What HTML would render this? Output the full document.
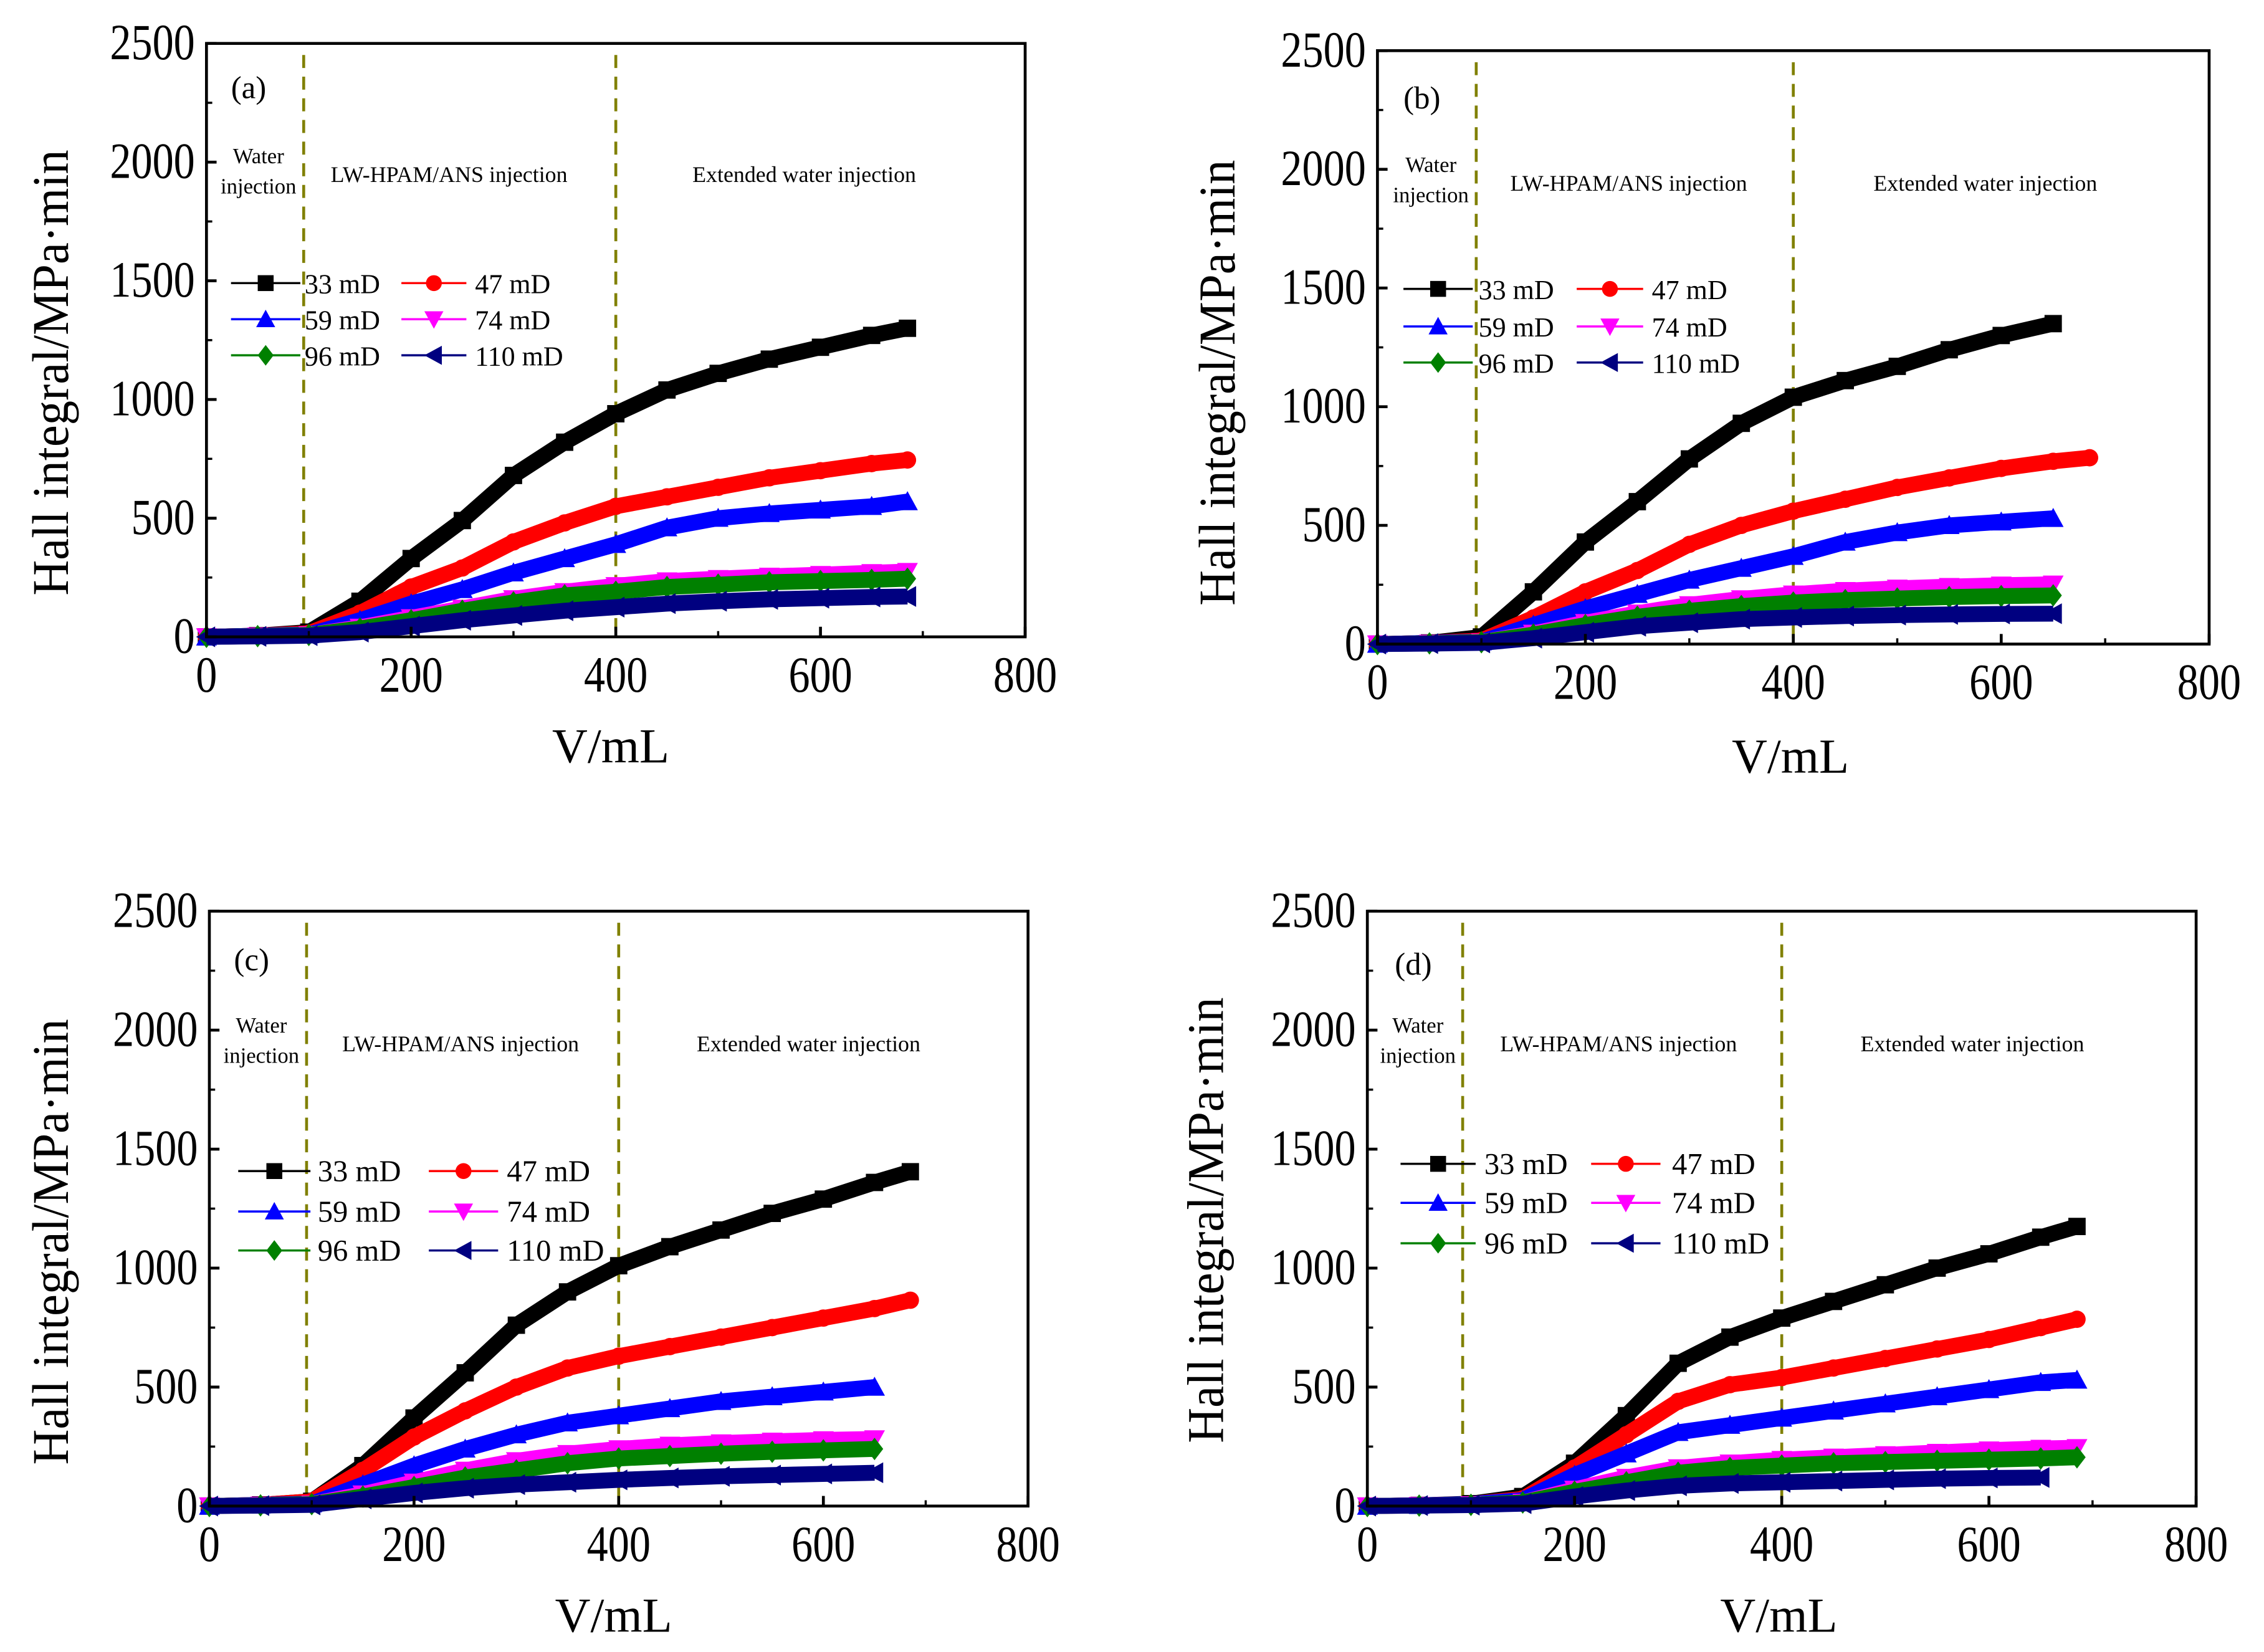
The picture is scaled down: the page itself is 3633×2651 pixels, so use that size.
<!DOCTYPE html>
<html><head><meta charset="utf-8"><style>
html,body{margin:0;padding:0;background:#fff;}
svg{display:block;font-family:"Liberation Serif",serif;}
</style></head><body>
<svg id="fig" xmlns="http://www.w3.org/2000/svg" width="3633" height="2651" viewBox="0 0 1568 1144"></svg>
<script>
const xTicks=[0,200,400,600,800];
const yTicks=[0,500,1000,1500,2000,2500];
const seriesNames=["33 mD","47 mD","59 mD","74 mD","96 mD","110 mD"];
const xVals=[0,50,100,150,200,250,300,350,400,450,500,550,600,650,685];
const aS33=[0,5,20,150,330,490,680,820,940,1040,1110,1170,1220,1270,1300];
const aS47=[0,5,15,100,210,290,400,480,550,590,630,670,700,730,745];
const aS59=[0,5,10,70,140,200,270,330,390,460,500,520,535,550,570];
const aS74=[0,3,8,40,80,120,160,190,215,235,245,255,262,270,275];
const aS96=[0,3,8,35,70,110,145,175,190,210,220,230,235,240,245];
const aS110=[0,2,5,20,45,70,90,110,125,140,150,158,163,168,170];
const bS33=[0,5,30,220,430,600,780,930,1040,1110,1170,1240,1300,1350,null];
const bS47=[0,5,15,110,220,310,420,500,560,610,660,700,740,770,785];
const bS59=[0,5,10,80,150,210,270,320,370,430,470,500,515,530,null];
const bS74=[0,3,8,45,90,130,165,190,210,225,235,242,248,252,null];
const bS96=[0,3,8,40,80,115,140,160,175,185,192,198,202,205,null];
const bS110=[0,2,5,25,50,75,90,105,112,118,122,125,127,128,null];
const cS33=[0,5,20,170,370,560,760,900,1010,1090,1160,1230,1290,1360,1405];
const cS47=[0,5,20,150,290,400,500,580,630,670,710,750,790,830,865];
const cS59=[0,5,10,90,170,240,300,350,380,410,440,460,480,500,null];
const cS74=[0,3,8,50,100,150,190,220,240,255,265,272,278,282,null];
const cS96=[0,3,8,40,80,120,150,180,200,210,220,228,234,240,null];
const cS110=[0,2,5,30,55,75,90,100,110,118,125,130,135,140,null];
const dS33=[0,3,10,40,180,380,600,710,790,860,930,1000,1060,1130,1175];
const dS47=[0,3,8,30,160,300,440,510,540,580,620,660,700,750,785];
const dS59=[0,3,8,25,130,220,310,340,370,400,430,460,490,520,530];
const dS74=[0,2,5,15,70,120,160,180,195,205,215,225,235,242,245];
const dS96=[0,2,5,15,60,100,140,160,170,180,185,190,195,200,205];
const dS110=[0,2,4,10,40,65,85,95,100,105,110,115,118,120,null];
const phaseLines=[[95,400],[95,400],[95,400],[92,400]];

const colors=["#000000","#ff0000","#0000ff","#ff00ff","#008000","#000080"];
const NS="http://www.w3.org/2000/svg";
const svg=document.getElementById('fig');
function mk(tag,attrs,parent){const e=document.createElementNS(NS,tag);for(const k in attrs)e.setAttribute(k,attrs[k]);(parent||svg).appendChild(e);return e;}
function marker(g,i,cx,cy,r){
  let e;
  if(i===0){e=mk('rect',{x:cx-r,y:cy-r,width:2*r,height:2*r,fill:colors[i]},g);}
  else if(i===1){e=mk('circle',{cx:cx,cy:cy,r:r,fill:colors[i]},g);}
  else if(i===2){e=mk('polygon',{points:`${cx},${cy-r*1.2} ${cx+r*1.2},${cy+r} ${cx-r*1.2},${cy+r}`,fill:colors[i]},g);}
  else if(i===3){e=mk('polygon',{points:`${cx},${cy+r*1.2} ${cx+r*1.2},${cy-r} ${cx-r*1.2},${cy-r}`,fill:colors[i]},g);}
  else if(i===4){e=mk('polygon',{points:`${cx},${cy-r*1.3} ${cx+r},${cy} ${cx},${cy+r*1.3} ${cx-r},${cy}`,fill:colors[i]},g);}
  else {e=mk('polygon',{points:`${cx-r*1.2},${cy} ${cx+r},${cy-r*1.2} ${cx+r},${cy+r*1.2}`,fill:colors[i]},g);}
  
  
  return e;
}
const panels=[
 {id:'a',L:143,R:710,T:30,B:441,series:[aS33,aS47,aS59,aS74,aS96,aS110],lab:[160,68],water:179,lw:311,ext:557,annY:125,
  leg:{rows:[196,221,246],c1:[160,208,211],c2:[278,323,329],fs:19},ylab:[35,258],xlab:[423,528]},
 {id:'b',L:954,R:1530,T:35,B:446,series:[bS33,bS47,bS59,bS74,bS96,bS110],lab:[972,75],water:991,lw:1128,ext:1375,annY:131,
  leg:{rows:[200,226,251],c1:[972,1020,1024],c2:[1092,1138,1144],fs:19},ylab:[843,265],xlab:[1240,535]},
 {id:'c',L:145,R:712,T:631,B:1043,series:[cS33,cS47,cS59,cS74,cS96,cS110],lab:[162,672],water:181,lw:319,ext:560,annY:727,
  leg:{rows:[811,839,866],c1:[165,215,220],c2:[297,345,351],fs:21},ylab:[35,860],xlab:[425,1130]},
 {id:'d',L:947,R:1521,T:631,B:1043,series:[dS33,dS47,dS59,dS74,dS96,dS110],lab:[966,675],water:982,lw:1121,ext:1366,annY:727,
  leg:{rows:[806,833,861],c1:[970,1022,1028],c2:[1102,1150,1158],fs:21},ylab:[835,845],xlab:[1232,1130]}
];
panels.forEach((p,pi)=>{
  const g=mk('g',{});
  
  
  const X=v=>p.L+(v/800)*(p.R-p.L);
  const Y=v=>p.B-(v/2500)*(p.B-p.T);
  phaseLines[pi].forEach(v=>{
    const l=mk('line',{x1:X(v),x2:X(v),y1:p.T+8,y2:p.B,stroke:'#808000','stroke-width':2,'stroke-dasharray':'9,6'},g);
    
    
  });
  p.series.forEach((arr,si)=>{
    const sg=mk('g',{},g);
    
    
    const pts=[];
    arr.forEach((v,k)=>{if(v!==null)pts.push([X(xVals[k]),Y(v)]);});
    const pl=mk('polyline',{points:pts.map(q=>q.join(',')).join(' '),fill:'none',stroke:colors[si],'stroke-width':11,'stroke-linejoin':'round'},sg);
    
    
    pts.forEach(q=>marker(sg,si,q[0],q[1],6));
  });
  const fr=mk('rect',{x:p.L,y:p.T,width:p.R-p.L,height:p.B-p.T,fill:'none',stroke:'#000','stroke-width':2},g);
  
  
  xTicks.forEach(t=>{
    mk('line',{x1:X(t),x2:X(t),y1:p.B,y2:p.B-7,stroke:'#000','stroke-width':2},g);
    const tx=mk('text',{x:X(t),y:p.B+38,'font-size':32,'text-anchor':'middle',transform:`translate(${X(t)},${p.B+38}) scale(0.92,1.1) translate(${-X(t)},${-(p.B+38)})`},g);tx.textContent=t;
    
    
  });
  for(let t=100;t<800;t+=200) mk('line',{x1:X(t),x2:X(t),y1:p.B,y2:p.B-4,stroke:'#000','stroke-width':1.5},g);
  yTicks.forEach(t=>{
    mk('line',{x1:p.L,x2:p.L+7,y1:Y(t),y2:Y(t),stroke:'#000','stroke-width':2},g);
    const yy=Y(t)+11;
    const tx=mk('text',{x:p.L-8,y:yy,'font-size':32,'text-anchor':'end',transform:`translate(${p.L-8},${yy}) scale(0.92,1.1) translate(${-(p.L-8)},${-yy})`},g);tx.textContent=t;
    
    
  });
  for(let t=250;t<2500;t+=500) mk('line',{x1:p.L,x2:p.L+4,y1:Y(t),y2:Y(t),stroke:'#000','stroke-width':1.5},g);
  const txt=(s,x,y,fs,anchor,name)=>{const e=mk('text',{x:x,y:y,'font-size':fs,'text-anchor':anchor},g);e.textContent=s;
    
    return e;};
  txt('('+p.id+')',p.lab[0],p.lab[1],22,'start','panel-label');
  txt('Water',p.water,p.annY-12,15,'middle','water-injection-label');
  txt('injection',p.water,p.annY+9,15,'middle','water-injection-label');
  txt('LW-HPAM/ANS injection',p.lw,p.annY+1,15.5,'middle','polymer-injection-label');
  txt('Extended water injection',p.ext,p.annY+1,15.5,'middle','extended-water-label');
  const yl=mk('text',{x:0,y:0,'font-size':34,'text-anchor':'middle',transform:`translate(${p.ylab[0]+12},${p.ylab[1]}) rotate(-90) scale(1,1.05)`},g);
  yl.textContent='Hall integral/MPa·min';
  
  
  txt('V/mL',p.xlab[0],p.xlab[1],34,'middle','x-axis-title');
  const lg=mk('g',{},g);
  
  
  seriesNames.forEach((nm,si)=>{
    const row=p.leg.rows[Math.floor(si/2)];
    const c=si%2===0?p.leg.c1:p.leg.c2;
    const eg=mk('g',{},lg);
    
    
    mk('line',{x1:c[0],x2:c[1],y1:row,y2:row,stroke:colors[si],'stroke-width':1.5},eg);
    marker(eg,si,(c[0]+c[1])/2,row,5.5);
    const t=mk('text',{x:c[2],y:row+7,'font-size':p.leg.fs},eg);t.textContent=nm;
    
    
  });
});
</script>
</body></html>
